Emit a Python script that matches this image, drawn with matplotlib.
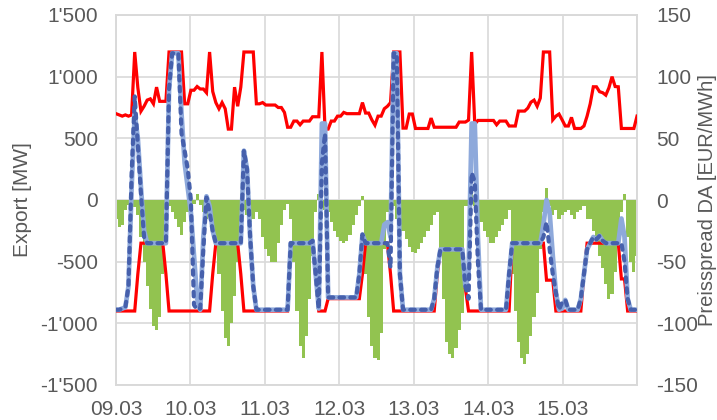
import numpy as np
import matplotlib
matplotlib.use("Agg")
import matplotlib.pyplot as plt
from matplotlib.ticker import FuncFormatter

plt.rcParams['font.family'] = ['Liberation Sans', 'DejaVu Sans']
plt.rcParams['axes.unicode_minus'] = False

# hourly values, 09.03 00:00 .. 15.03 23:00
day_labels = ["09.03", "10.03", "11.03", "12.03", "13.03", "14.03", "15.03"]

# upper limit (red, MW)
limit_export = [
    700, 690, 680, 690, 680, 690, 1200, 910, 720, 760, 810, 820, 780, 915, 800, 800, 800, 1200, 1200, 1200, 1200, 1200, 780, 780,
    890, 890, 920, 900, 900, 870, 1200, 880, 790, 740, 790, 740, 575, 575, 915, 760, 915, 1200, 1200, 1200, 1200, 780, 780, 790,
    770, 770, 770, 770, 750, 750, 710, 590, 590, 640, 640, 610, 640, 640, 640, 675, 675, 675, 1200, 575, 575, 640, 640, 680,
    680, 710, 700, 700, 700, 700, 700, 790, 705, 705, 650, 607, 680, 680, 740, 760, 790, 1200, 1200, 1200, 583, 583, 697, 697,
    580, 580, 580, 580, 580, 664, 590, 590, 590, 590, 590, 590, 590, 590, 632, 632, 632, 648, 1200, 615, 645, 645, 645, 645,
    645, 645, 610, 640, 640, 640, 600, 600, 600, 721, 721, 721, 745, 793, 810, 760, 826, 1200, 1200, 1200, 650, 680, 697, 650,
    600, 600, 670, 580, 580, 580, 600, 680, 780, 918, 918, 878, 870, 850, 910, 1000, 920, 918, 580, 580, 580, 580, 580, 680,
]

# lower limit (red, MW)
limit_import = [
    -900, -900, -900, -900, -900, -900, -900, -600, -350, -350, -350, -350, -350, -350, -350, -350, -600, -900, -900, -900, -900, -900, -900, -900,
    -900, -900, -900, -900, -900, -900, -900, -600, -350, -350, -350, -350, -350, -350, -350, -350, -600, -900, -900, -900, -900, -900, -900, -900,
    -900, -900, -900, -900, -900, -900, -900, -900, -350, -350, -350, -350, -350, -350, -350, -350, -620, -900, -900, -900, -800, -800, -800, -800,
    -800, -800, -800, -800, -800, -800, -800, -600, -350, -350, -350, -350, -350, -350, -350, -350, -600, -900, -900, -900, -900, -900, -900, -900,
    -900, -900, -900, -900, -900, -900, -900, -600, -400, -400, -400, -400, -400, -400, -400, -400, -720, -900, -900, -900, -900, -900, -900, -900,
    -900, -900, -900, -900, -900, -900, -900, -350, -350, -350, -350, -350, -350, -350, -350, -350, -350, -350, -650, -650, -650, -900, -900, -900,
    -900, -900, -900, -900, -900, -900, -600, -350, -350, -350, -350, -350, -350, -350, -350, -350, -350, -350, -640, -640, -900, -900, -900, -900,
]

# export, light blue solid (MW)
export_a = [
    -890, -890, -880, -870, -700, 100, 700, 500, 100, -250, -350, -350, -350, -350, -350, -350, -350, 900, 1190, 1190, 1190, 700, 300, 100,
    -100, -450, -800, -890, -300, 30, -50, -250, -350, -350, -350, -350, -350, -350, -350, -350, -350, 400, 250, -300, -700, -890, -890, -890,
    -890, -890, -890, -890, -890, -890, -890, -890, -350, -350, -350, -350, -350, -350, -350, -330, -600, -880, 620, 620, -790, -790, -790, -790,
    -790, -790, -790, -790, -790, -790, -600, -280, -350, -350, -350, -350, -350, -350, -200, -180, -300, 1190, 1190, -600, -890, -890, -890, -890,
    -890, -890, -890, -890, -890, -890, -800, -550, -400, -400, -400, -400, -400, -400, -400, -400, -700, -600, 620, 620, -300, -890, -890, -890,
    -890, -890, -890, -890, -890, -890, -600, -350, -350, -350, -350, -350, -350, -350, -350, -350, -350, -200, 0, -100, -450, -750, -890, -880,
    -810, -890, -890, -890, -890, -800, -600, -400, -350, -300, -320, -290, -330, -350, -350, -350, -350, -350, -150, -300, -800, -890, -890, -890,
]

# export, dark blue dashed (MW)
export_b = [
    -890, -890, -880, -870, -700, 200, 840, 450, 50, -300, -350, -350, -350, -350, -350, -350, -350, 900, 1190, 1190, 1190, 540, 400, 250,
    0, -850, -890, -880, -400, 20, -100, -250, -350, -350, -350, -350, -350, -350, -350, -350, -350, 400, 250, -300, -700, -890, -890, -890,
    -890, -890, -890, -890, -890, -890, -890, -890, -350, -350, -350, -350, -350, -350, -350, -330, -600, -880, 300, 540, -790, -790, -790, -790,
    -790, -790, -790, -790, -790, -790, -600, -280, -350, -350, -350, -350, -350, -350, -350, -350, -550, 1190, 1190, -600, -890, -890, -890, -890,
    -890, -890, -890, -890, -890, -890, -800, -550, -400, -400, -400, -400, -400, -400, -400, -400, -700, -800, 220, 150, -500, -890, -890, -890,
    -890, -890, -890, -890, -890, -890, -600, -350, -350, -350, -350, -350, -350, -350, -350, -350, -350, -300, -180, -400, -600, -750, -890, -830,
    -810, -890, -890, -890, -890, -800, -600, -400, -350, -300, -320, -290, -330, -350, -350, -350, -350, -350, -350, -500, -800, -890, -890, -890,
]

# price spread DA (green, EUR/MWh)
spread = [
    -15, -22, -20, -8, -4, -3, -6, -12, -30, -50, -70, -88, -102, -105, -95, -60, -8, -5, -10, -15, -22, -28, -18, -10,
    -6, -3, 5, -4, -10, -15, -12, -20, -35, -60, -90, -112, -118, -100, -78, -50, -20, -8, -12, -18, -15, -10, -15, -30,
    -40, -45, -50, -50, -35, -20, -8, -3, -15, -50, -90, -118, -128, -110, -80, -45, -10, 5, -5, -8, -10, -18, -25, -30,
    -33, -35, -33, -28, -20, -12, -5, 3, -60, -95, -118, -128, -130, -108, -40, -10, -8, -5, -15, -20, -25, -32, -38, -42,
    -43, -40, -35, -30, -25, -20, -12, -10, -40, -80, -115, -125, -128, -120, -105, -92, -5, -5, 10, -5, -10, -18, -25, -30,
    -35, -35, -30, -25, -20, -15, -8, -60, -90, -115, -128, -133, -125, -110, -95, -75, -40, -10, 10, -5, -12, -8, -15, -12,
    -10, -8, -12, -15, -10, -8, -5, -15, -15, -25, -35, -45, -55, -68, -80, -76, -58, -38, -10, 5, -30, -50, -58, -45,
]

n = len(spread)
x = np.linspace(0, 7, n)

fig = plt.figure(figsize=(7.17, 4.20), dpi=100)
ax2 = fig.add_axes([116 / 717, 35 / 420, 521 / 717, 370 / 420])
ax1 = ax2.twinx()
ax1.set_zorder(ax2.get_zorder() + 1)
ax1.patch.set_visible(False)

grid_c = '#D9D9D9'
text_c = '#595959'
green = '#92C350'

# background: spread as stepped fill + grid (right axis)
ax2.set_axisbelow(True)
ax2.grid(True, color=grid_c, lw=1.2)
ax2.fill_between(x, spread, 0, step='mid', color=green, linewidth=0, zorder=2)
ax2.set_ylim(-150, 150)
ax2.set_yticks([-150, -100, -50, 0, 50, 100, 150])
ax2.set_xlim(0, 7)
ax2.set_xticks(range(8))
ax2.set_xticklabels(day_labels + [""])

# lines (left axis)
ax1.plot(x, limit_export, color='#FF0000', lw=2.3, solid_joinstyle='miter', zorder=3)
ax1.plot(x, limit_import, color='#FF0000', lw=2.3, solid_joinstyle='miter', zorder=3)
ax1.plot(x, export_a, color='#8EA9DB', lw=3.4, zorder=4)
ax1.plot(x, export_b, color='#4660AC', lw=3.0, dashes=(1.1, 1.5),
         dash_capstyle='round', zorder=5)
ax1.set_ylim(-1500, 1500)
ax1.set_yticks([-1500, -1000, -500, 0, 500, 1000, 1500])
ax1.set_xlim(0, 7)

fmt = FuncFormatter(lambda v, p: f"{int(v):,}".replace(",", "'"))
ax1.yaxis.set_major_formatter(fmt)

# ax1 is the twin, so its ticks sit on the right by default: swap sides
ax1.yaxis.tick_left()
ax1.yaxis.set_label_position('left')
ax2.yaxis.tick_right()
ax2.yaxis.set_label_position('right')

for ax in (ax1, ax2):
    for s in ax.spines.values():
        s.set_color(grid_c)
        s.set_linewidth(1.2)
    ax.tick_params(length=0, labelsize=15, colors=text_c)

ax1.tick_params(axis='y', pad=13)
ax2.tick_params(axis='y', pad=14)
ax2.tick_params(axis='x', pad=11)

ax1.set_ylabel("Export [MW]", fontsize=15, color=text_c, labelpad=6)
ax2.set_ylabel("Preisspread DA [EUR/MWh]", fontsize=14.5, color=text_c, labelpad=0)

fig.savefig("out.png", dpi=100)
